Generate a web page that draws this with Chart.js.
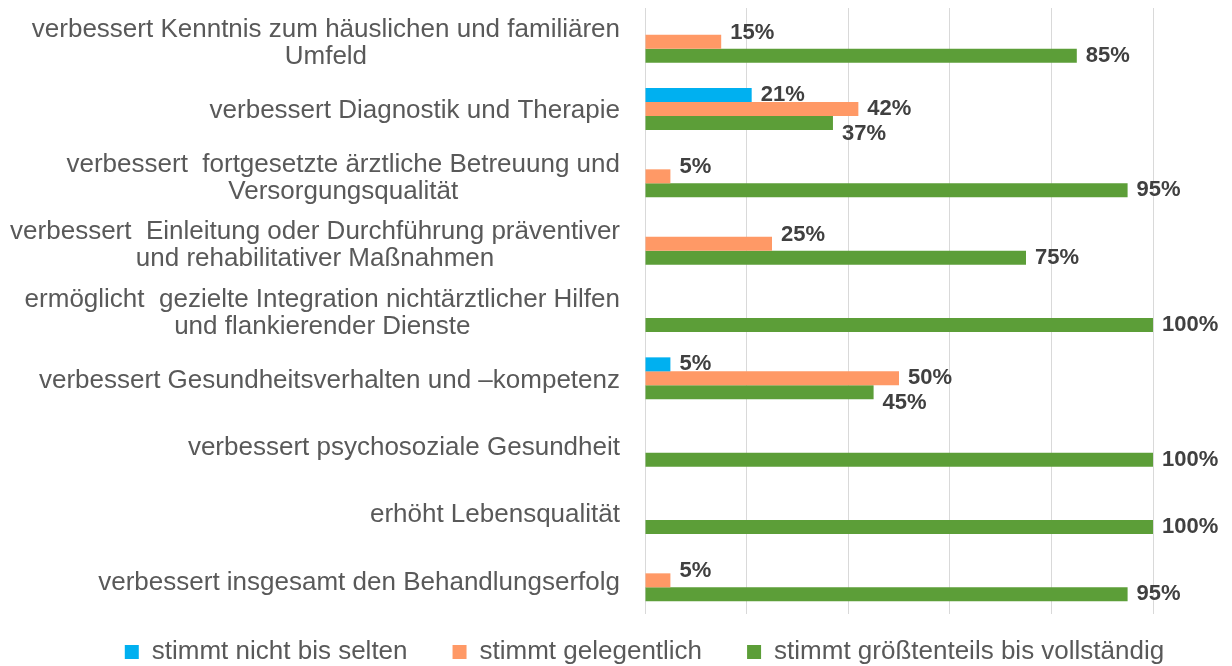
<!DOCTYPE html>
<html>
<head>
<meta charset="utf-8">
<script src="https://cdn.jsdelivr.net/npm/chart.js@4/dist/chart.umd.min.js"></script>
<style>
    html, body { margin: 0; padding: 0; background: #ffffff; }
    #wrap { width: 1232px; height: 666px; position: relative; }
</style>
</head>
<body>
<div id="wrap"><canvas id="chart"></canvas></div>
<script>
const FONT = "'Liberation Sans', Arial, sans-serif";

const categories = [
    ['verbessert Kenntnis zum häuslichen und familiären', 'Umfeld'],
    ['verbessert Diagnostik und Therapie'],
    ['verbessert  fortgesetzte ärztliche Betreuung und', 'Versorgungsqualität'],
    ['verbessert  Einleitung oder Durchführung präventiver', 'und rehabilitativer Maßnahmen'],
    ['ermöglicht  gezielte Integration nichtärztlicher Hilfen', 'und flankierender Dienste'],
    ['verbessert Gesundheitsverhalten und –kompetenz'],
    ['verbessert psychosoziale Gesundheit'],
    ['erhöht Lebensqualität'],
    ['verbessert insgesamt den Behandlungserfolg']
];

const seriesNames = ['stimmt nicht bis selten', 'stimmt gelegentlich', 'stimmt größtenteils bis vollständig'];
const seldom = [0, 21, 0, 0, 0, 5, 0, 0, 0];
const occasionally = [15, 42, 5, 25, 0, 50, 0, 0, 5];
const mostly = [85, 37, 95, 75, 100, 45, 100, 100, 95];
const colors = ['#00b0f0', '#ff9966', '#5c9e38'];

const LEGEND_GAP = 45;

// category labels: block right aligned, lines centered within the block
const categoryLabels = {
    id: 'categoryLabels',
    afterDraw(chart) {
        const { ctx } = chart;
        const yScale = chart.scales.y;
        const right = chart.chartArea.left - 25;
        const lineHeight = 27;
        ctx.save();
        ctx.font = `26px ${FONT}`;
        ctx.fillStyle = '#595959';
        ctx.textAlign = 'center';
        ctx.textBaseline = 'middle';
        categories.forEach((lines, i) => {
            const y = yScale.getPixelForTick(i) + 2;
            const maxW = Math.max(...lines.map((l) => ctx.measureText(l).width));
            const cx = right - maxW / 2;
            const startY = y - (lines.length - 1) * lineHeight / 2;
            lines.forEach((line, j) => ctx.fillText(line, cx, startY + j * lineHeight));
        });
        ctx.restore();
    }
};

const valueLabels = {
    id: 'valueLabels',
    afterDatasetsDraw(chart) {
        const { ctx } = chart;
        ctx.save();
        ctx.font = `bold 22px ${FONT}`;
        ctx.fillStyle = '#404040';
        ctx.textAlign = 'left';
        ctx.textBaseline = 'middle';
        chart.data.datasets.forEach((ds, d) => {
            const meta = chart.getDatasetMeta(d);
            meta.data.forEach((bar, i) => {
                const v = ds.data[i];
                if (!v) return;
                const hasSeldom = seldom[i] > 0;
                let dy = 0;
                if (d === 1 && !hasSeldom) dy = -9;
                if (d === 2 && hasSeldom) dy = 11;
                ctx.fillText(`${v}%`, bar.x + 9, bar.y + dy);
            });
        });
        ctx.restore();
    }
};

// the legend padding also spaces the items; pull its top edge up so the row sits under the plot
const legendShift = {
    id: 'legendShift',
    afterLayout(chart) {
        const lg = chart.legend;
        if (!lg) return;
        lg.top -= LEGEND_GAP - 25;
        lg.left += 68;
        lg.right += 68;
    }
};

new Chart(document.getElementById('chart'), {
    type: 'bar',
    data: {
        labels: categories,
        datasets: [
            { label: seriesNames[0], data: seldom, backgroundColor: colors[0] },
            { label: seriesNames[1], data: occasionally, backgroundColor: colors[1] },
            { label: seriesNames[2], data: mostly, backgroundColor: colors[2] }
        ]
    },
    options: {
        indexAxis: 'y',
        responsive: true,
        maintainAspectRatio: false,
        animation: false,
        categoryPercentage: 0.623,
        barPercentage: 1,
        layout: {
            padding: { left: 0, right: 79, top: 8, bottom: 0 }
        },
        plugins: {
            tooltip: { enabled: false },
            legend: {
                position: 'bottom',
                maxHeight: 52,
                labels: {
                    boxWidth: 14,
                    boxHeight: 14,
                    padding: LEGEND_GAP,
                    color: '#595959',
                    font: { family: FONT, size: 26 }
                }
            }
        },
        scales: {
            x: {
                min: 0,
                max: 100,
                ticks: { display: false, stepSize: 20 },
                grid: { color: '#d9d9d9', drawTicks: false },
                border: { display: false }
            },
            y: {
                ticks: { display: false },
                grid: { display: false },
                border: { display: false },
                afterFit(scale) {
                    scale.width = 645;
                }
            }
        }
    },
    plugins: [categoryLabels, valueLabels, legendShift]
});
</script>
</body>
</html>
